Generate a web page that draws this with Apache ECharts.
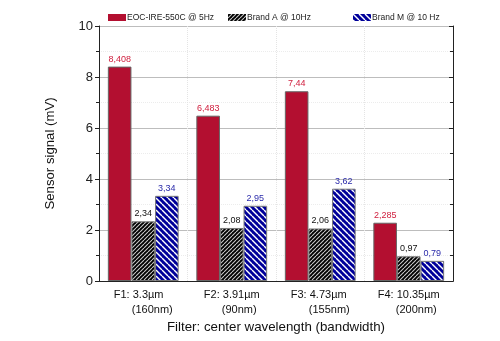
<!DOCTYPE html>
<html><head><meta charset="utf-8">
<script src="https://cdn.jsdelivr.net/npm/echarts@6/dist/echarts.min.js"></script>
<style>html,body{margin:0;padding:0;background:#fff}#c{width:500px;height:341px}</style>
</head><body><div id="c"></div>
<script>
var categories = ['F1: 3.3µm|(160nm)', 'F2: 3.91µm|(90nm)', 'F3: 4.73µm|(155nm)', 'F4: 10.35µm|(200nm)'];
var seriesNames = ['EOC-IRE-550C @ 5Hz', 'Brand A @ 10Hz', 'Brand M @ 10 Hz'];
var eocValues = [8.408, 6.483, 7.44, 2.285];
var brandAValues = [2.34, 2.08, 2.06, 0.97];
var brandMValues = [3.34, 2.95, 3.62, 0.79];
var yTicks = [0, 2, 4, 6, 8, 10];

function stripe(p, bg, fg, lw, dir) {
  var c = document.createElement('canvas');
  c.width = p; c.height = p;
  var g = c.getContext('2d');
  g.fillStyle = bg; g.fillRect(0, 0, p, p);
  g.strokeStyle = fg; g.lineWidth = lw;
  for (var k = -1; k <= 1; k++) {
    g.beginPath();
    if (dir > 0) { g.moveTo(k * p, p); g.lineTo(k * p + p, 0); }
    else { g.moveTo(k * p, 0); g.lineTo(k * p + p, p); }
    g.stroke();
  }
  return c;
}
var blackPat = {image: stripe(4, '#000000', '#c8c8c8', 1.1, 1), repeat: 'repeat'};
var bluePat = {image: stripe(6, '#00009a', '#ffffff', 1.4, -1), repeat: 'repeat'};

function fmt(p) { return String(p.value).replace('.', ','); }
var font = 'Liberation Sans, Arial, sans-serif';
var chart = echarts.init(document.getElementById('c'));
function lab(color) {
  return {show: true, position: 'top', distance: 3, fontSize: 9, color: color, fontFamily: font, formatter: fmt};
}
function leg(name, left) {
  return {data: [{name: name, icon: 'rect', itemStyle: {borderWidth: 0}}], left: left, top: 8, itemWidth: 18, itemHeight: 7,
    textStyle: {fontSize: 8.5, color: '#222', padding: [0, 0, 0, -4]}};
}
var barBase = {type: 'bar', barGap: '0%', barCategoryGap: '20%', xAxisIndex: 0, yAxisIndex: 0};
chart.setOption({
  animation: false,
  textStyle: {fontFamily: font},
  grid: {left: 99, right: 47, top: 26, bottom: 60},
  legend: [leg(seriesNames[0], 103), leg(seriesNames[1], 223), leg(seriesNames[2], 348)],
  xAxis: [{
    type: 'category', data: categories, position: 'bottom',
    name: 'Filter: center wavelength (bandwidth)', nameLocation: 'middle', nameGap: 40,
    nameTextStyle: {fontSize: 13.3, color: '#111'},
    axisLine: {lineStyle: {color: '#222', width: 1}},
    axisTick: {alignWithLabel: true, length: 4, lineStyle: {color: '#222'}},
    splitLine: {show: true, lineStyle: {color: '#e4e4e4', type: 'dotted'}},
    axisLabel: {
      margin: 6, interval: 0,
      formatter: function (v) { var s = v.split('|'); return '{a|' + s[0] + '}\n{b|' + s[1] + '}'; },
      rich: {a: {fontSize: 11, color: '#111', align: 'left', lineHeight: 15}, b: {fontSize: 11, color: '#111', align: 'left', lineHeight: 15, padding: [0, 0, 0, 18]}}
    }
  }, {
    type: 'category', data: categories, position: 'top',
    axisLine: {lineStyle: {color: '#222', width: 1}},
    axisTick: {alignWithLabel: true, inside: true, length: 4, lineStyle: {color: '#222'}},
    axisLabel: {show: false}, splitLine: {show: false}
  }],
  yAxis: [{
    type: 'value', min: yTicks[0], max: yTicks[yTicks.length - 1], interval: 2, position: 'left',
    name: 'Sensor signal (mV)', nameLocation: 'middle', nameGap: 42, nameRotate: 90,
    nameTextStyle: {fontSize: 13.2, color: '#111'},
    axisLine: {show: true, lineStyle: {color: '#222'}},
    axisTick: {show: true, length: 4, lineStyle: {color: '#222'}},
    minorTick: {show: true, splitNumber: 2, length: 3, lineStyle: {color: '#222'}},
    axisLabel: {fontSize: 13, color: '#222', margin: 6},
    splitLine: {show: true, lineStyle: {color: '#bdbdbd', width: 1}},
    minorSplitLine: {show: true, lineStyle: {color: '#ececec', type: 'dotted'}}
  }, {
    type: 'value', min: yTicks[0], max: yTicks[yTicks.length - 1], interval: 2, position: 'right',
    axisLine: {show: true, lineStyle: {color: '#222'}},
    axisTick: {show: true, inside: true, length: 4, lineStyle: {color: '#222'}},
    minorTick: {show: true, splitNumber: 2, length: 3, lineStyle: {color: '#222'}},
    axisLabel: {show: false}, splitLine: {show: false}
  }],
  series: [
    Object.assign({}, barBase, {name: seriesNames[0], data: eocValues, itemStyle: {color: '#b30f30', borderColor: '#666', borderWidth: 1}, label: lab('#d0203f')}),
    Object.assign({}, barBase, {name: seriesNames[1], data: brandAValues, itemStyle: {color: blackPat, borderColor: '#777', borderWidth: 1}, label: lab('#111')}),
    Object.assign({}, barBase, {name: seriesNames[2], data: brandMValues, itemStyle: {color: bluePat, borderColor: '#777', borderWidth: 1}, label: lab('#2a2aaa')})
  ]
});
</script></body></html>
